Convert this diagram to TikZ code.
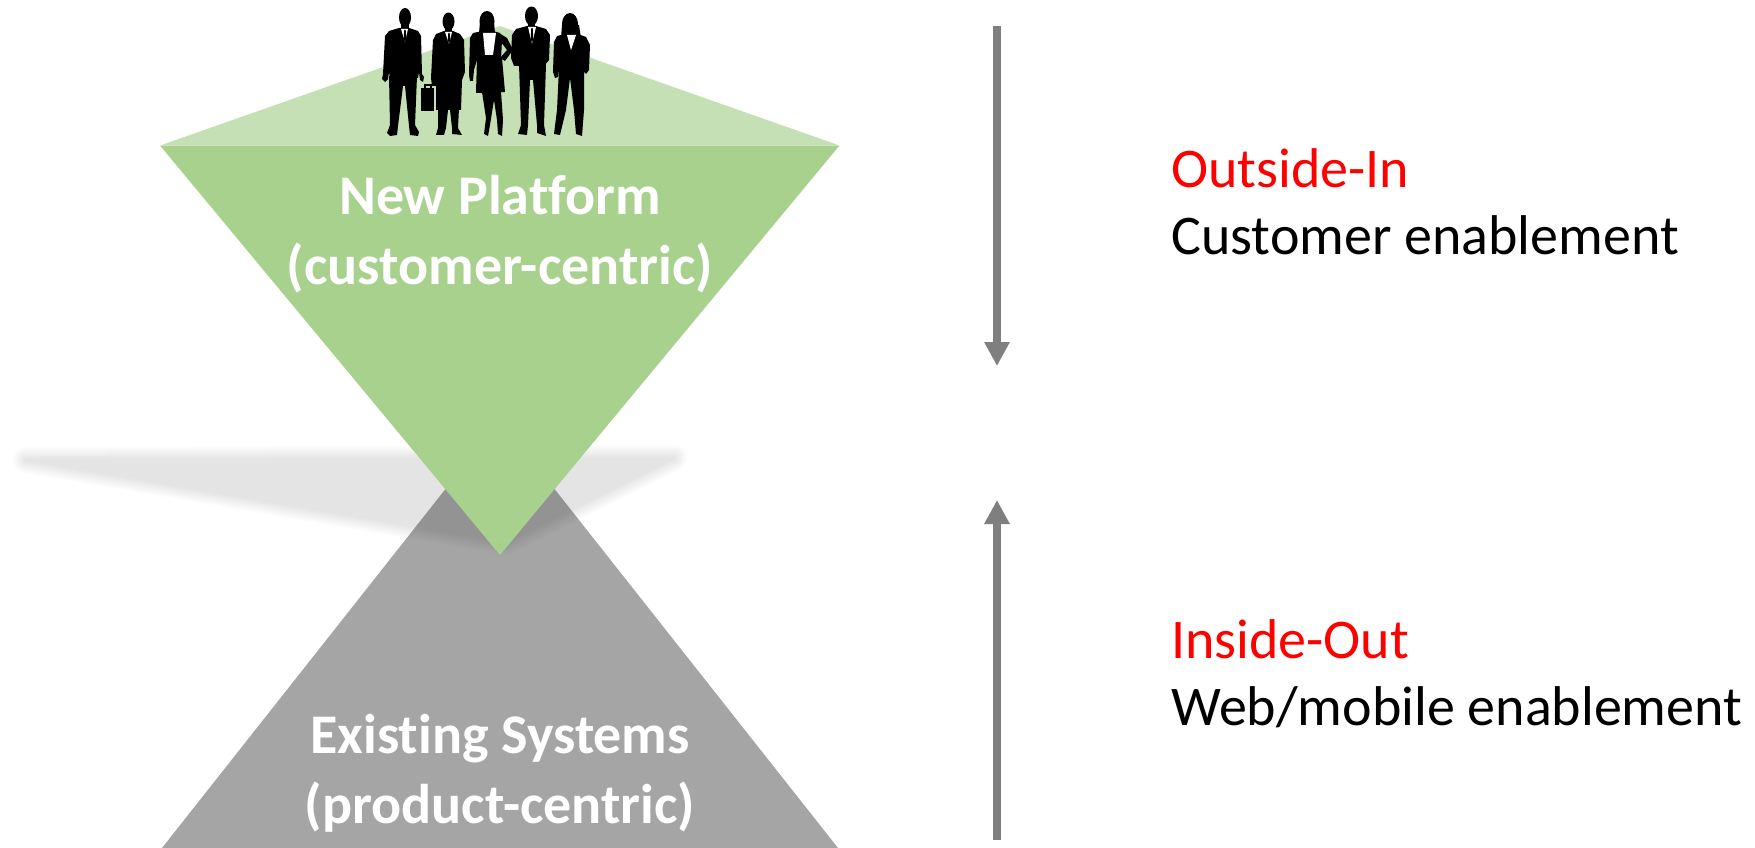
\documentclass[tikz,border=0pt]{standalone}
\usepackage{fontspec}
\setmainfont{Carlito}[Ligatures=NoCommon]
\usetikzlibrary{arrows.meta}
\definecolor{topface}{HTML}{C5E0B4}
\definecolor{platgreen}{HTML}{A9D18E}
\definecolor{legacygray}{HTML}{A5A5A5}
\definecolor{arrowgray}{HTML}{7F7F7F}
\definecolor{accentred}{HTML}{FF0000}
\begin{document}
\begin{tikzpicture}[x=1pt,y=-1pt,
  trilabel/.style={text=white,font=\fontsize{56}{70}\selectfont\bfseries,align=center,inner sep=0pt},
  sidelabel/.style={text=black,font=\fontsize{56}{67}\selectfont,align=left,inner sep=0pt,anchor=west},
  flow/.style={draw=arrowgray,line width=8pt,-{Triangle[width=24pt,length=24pt]}},
  figure/.style={fill=black},
  shirt/.style={fill=white}]
\useasboundingbox (0,0) rectangle (1755,848);

% lower cone: existing systems
\fill[legacygray] (500,420) -- (847.5,860) -- (152.5,860) -- cycle;

% soft shadow cast by the upper cone
\foreach \w in {26,23,20,17,14,11,8,5,2}{
  \begin{scope}[transparency group,opacity=0.013]
    \filldraw[black,line width=\w pt,line join=round]
      (26,460) -- (674,458) -- (506,542) -- cycle;
  \end{scope}
}

% upper cone: new platform
\fill[platgreen] (160,145.5) -- (839.5,145.5) -- (500,555) -- cycle;
\fill[topface] (160,145.5) -- (500,26) -- (839.5,145.5) -- cycle;

% people standing on the platform
% 1: man
\fill[figure] (405,17.5) ellipse (6 and 9.5);
\fill[figure] (401,24) rectangle (409,31);
\fill[figure] (399,28) -- (389,31) -- (385,36) -- (383,74) -- (382,79) -- (385,82) -- (388,79)
  -- (389,72) -- (390,78) -- (418,78) -- (419,72) -- (420,80) -- (423,82) -- (424,77)
  -- (422,74) -- (421,36) -- (418,31) -- (409,28) -- cycle;
\fill[figure] (389,76) -- (390,125) -- (387,133) -- (390,136) -- (397,135) -- (398,126)
  -- (403,86) -- (405,86) -- (409,126) -- (410,135) -- (418,136) -- (419,132) -- (415,125)
  -- (417,76) -- cycle;
\fill[shirt] (401,29) -- (405,42) -- (408,29) -- cycle;
\fill[figure] (404.3,30) -- (403.6,39) -- (405,42) -- (406.4,39) -- (405.7,30) -- cycle;
% 2: man with briefcase
\fill[figure] (448.5,21.5) ellipse (6 and 9);
\fill[figure] (445,27) rectangle (452,33);
\fill[figure] (444,31) -- (436,34) -- (433,40) -- (431,78) -- (432,86) -- (436,86) -- (436,110)
  -- (461,110) -- (462,80) -- (465,72) -- (464,40) -- (460,34) -- (453,31) -- cycle;
\fill[figure] (421,88) rectangle (434,111);
\draw[black,line width=1.5pt] (425,88) -- (425,85) -- (431,85) -- (431,88);
\fill[figure] (438,108) -- (438,128) -- (436,135) -- (444,135) -- (446,128) -- (448,110)
  -- (450,110) -- (452,128) -- (452,134) -- (462,135) -- (458,128) -- (459,108) -- cycle;
\fill[shirt] (445,32) -- (449,44) -- (452,32) -- cycle;
\fill[figure] (448.3,33) -- (447.8,40) -- (449,44) -- (450.2,40) -- (449.7,33) -- cycle;
% 3: woman in skirt
\fill[figure] (487,21) ellipse (7.5 and 10);
\fill[figure] (480,22) -- (479,33) -- (495,33) -- (494,22) -- cycle;
\fill[figure] (483,31) -- (473,33) -- (470,38) -- (469,75) -- (470,81) -- (473,81) -- (474,70)
  -- (477,60) -- (501,60) -- (502,40) -- (500,33) -- (493,31) -- cycle;
\fill[figure] (499,33) -- (507,38) -- (513,50) -- (505,61) -- (500,58) -- (507,50) -- (501,42) -- cycle;
\fill[shirt] (483,33) -- (485,55) -- (493,55) -- (496,33) -- cycle;
\fill[figure] (477,58) -- (476,93) -- (505,92) -- (502,58) -- cycle;
\fill[figure] (482,92) -- (486,118) -- (484,134) -- (488,136) -- (490,125) -- (494,100)
  -- (497,120) -- (498,134) -- (502,136) -- (503,120) -- (501,92) -- cycle;
% 4: tall man
\fill[figure] (531.5,16) ellipse (6.5 and 9.5);
\fill[figure] (528,22) rectangle (535,29);
\fill[figure] (527,26) -- (516,29) -- (512,35) -- (511,58) -- (514,66) -- (520,66) -- (544,66)
  -- (549,60) -- (550,35) -- (546,29) -- (536,26) -- cycle;
\fill[figure] (519,64) -- (521,125) -- (518,134) -- (527,135) -- (528,125) -- (530,80)
  -- (533,80) -- (537,125) -- (537,133) -- (546,136) -- (544,125) -- (546,64) -- cycle;
\fill[shirt] (528,27) -- (532,44) -- (536,27) -- cycle;
\fill[figure] (531.3,28) -- (530.7,39) -- (532,43) -- (533.3,39) -- (532.7,28) -- cycle;
% 5: woman in trouser suit
\fill[figure] (570,24) ellipse (8 and 11);
\fill[figure] (562,25) -- (561,38) -- (581,38) -- (579,25) -- cycle;
\fill[figure] (565,34) -- (557,36) -- (554,42) -- (553,72) -- (555,78) -- (558,77) -- (559,70)
  -- (582,70) -- (586,74) -- (589,70) -- (590,45) -- (586,37) -- (578,34) -- cycle;
\fill[shirt] (567,35) -- (571,50) -- (576,35) -- cycle;
\fill[figure] (559,68) -- (557,110) -- (554,134) -- (560,135) -- (566,110) -- (570,78)
  -- (574,110) -- (576,134) -- (582,136) -- (584,110) -- (584,68) -- cycle;

% cone labels
\node[trilabel] (newplat) at (500,234) {New Platform\\(customer-centric)};
\node[trilabel] (legacy) at (500,773.5) {Existing Systems\\(product-centric)};

% direction arrows
\coordinate (downstart) at (997,26);
\coordinate (downend) at (997,366);
\coordinate (upstart) at (997,840);
\coordinate (upend) at (997,500);
\draw[flow] (downstart) -- (downend);
\draw[flow] (upstart) -- (upend);

% approach descriptions
\node[sidelabel] (outin) at (1171,201.5) {\textcolor{accentred}{Outside-In}\\Customer enablement};
\node[sidelabel] (inout) at (1171,673.5) {\textcolor{accentred}{Inside-Out}\\Web/mobile enablement};
\end{tikzpicture}
\end{document}
